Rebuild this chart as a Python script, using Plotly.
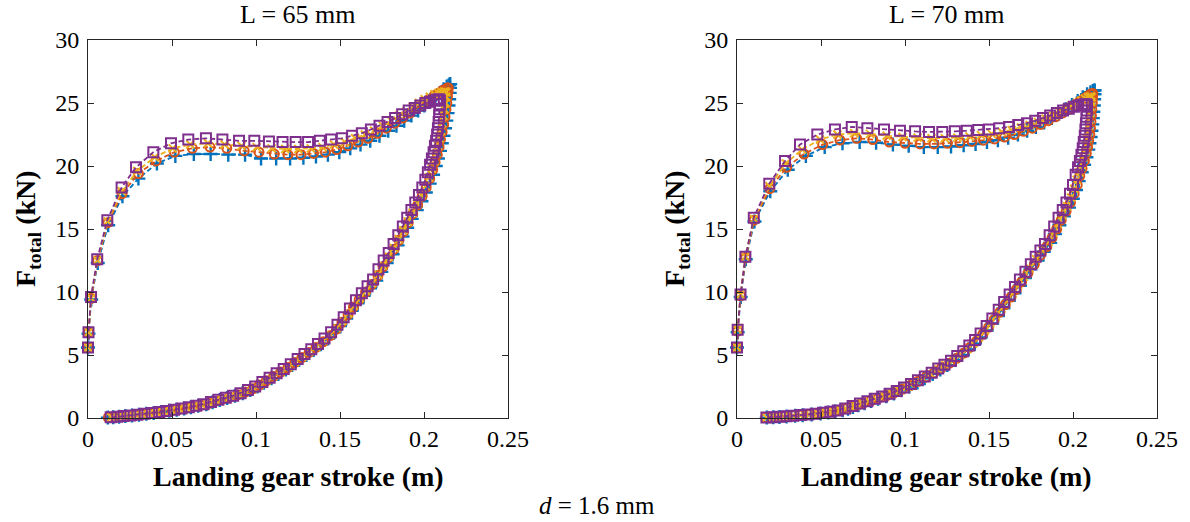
import plotly.graph_objects as go

# ---------------- L = 65 mm ----------------
# series 1 (+)
s65_a_load_x = [0.0000, 0.0003, 0.0019, 0.0058, 0.0120, 0.0205, 0.0300, 0.0410, 0.0520, 0.0630, 0.0730, 0.0835, 0.0935, 0.1030, 0.1120, 0.1203, 0.1282, 0.1357, 0.1428, 0.1496, 0.1561, 0.1622, 0.1680, 0.1735, 0.1787, 0.1836, 0.1882, 0.1925, 0.1965, 0.2002, 0.2036, 0.2067, 0.2094, 0.2117, 0.2135, 0.2147, 0.2154, 0.2156]
s65_a_load_f = [5.6, 6.7, 9.4, 12.3, 15.3, 17.6, 19.0, 20.2, 20.8, 20.95, 20.95, 20.9, 20.9, 20.6, 20.6, 20.6, 20.65, 20.75, 20.9, 21.1, 21.4, 21.7, 22.0, 22.4, 22.8, 23.2, 23.6, 24.0, 24.4, 24.8, 25.2, 25.5, 25.8, 26.1, 26.3, 26.4, 26.5, 26.5]
s65_a_unload_x = [0.2155, 0.2153, 0.2150, 0.2146, 0.2140, 0.2133, 0.2125, 0.2116, 0.2106, 0.2095, 0.2083, 0.2070, 0.2054, 0.2034, 0.2011, 0.1985, 0.1957, 0.1927, 0.1900, 0.1872, 0.1843, 0.1813, 0.1778, 0.1746, 0.1716, 0.1679, 0.1641, 0.1605, 0.1570, 0.1537, 0.1500, 0.1467, 0.1428, 0.1386, 0.1343, 0.1300, 0.1257, 0.1215, 0.1178, 0.1133, 0.1092, 0.1047, 0.1009, 0.0966, 0.0921, 0.0875, 0.0828, 0.0784, 0.0741, 0.0704, 0.0656, 0.0612, 0.0572, 0.0528, 0.0484, 0.0435, 0.0391, 0.0347, 0.0304, 0.0262, 0.0222, 0.0185, 0.0150, 0.0118]
s65_a_unload_f = [26.2, 25.8, 25.3, 24.8, 24.2, 23.6, 23.0, 22.4, 21.8, 21.2, 20.6, 20.0, 19.3, 18.6, 17.9, 17.2, 16.5, 15.8, 15.1, 14.4, 13.7, 13.0, 12.3, 11.6, 10.9, 10.3, 9.7, 9.1, 8.5, 7.9, 7.3, 6.8, 6.3, 5.85, 5.4, 5.0, 4.6, 4.2, 3.85, 3.5, 3.15, 2.8, 2.5, 2.22, 1.97, 1.76, 1.58, 1.42, 1.25, 1.1, 0.97, 0.86, 0.76, 0.66, 0.57, 0.48, 0.40, 0.33, 0.26, 0.2, 0.15, 0.1, 0.06, 0.03]

# series 2 (o)
s65_b_load_x = [0.0000, 0.0003, 0.0019, 0.0057, 0.0118, 0.0203, 0.0300, 0.0405, 0.0514, 0.0621, 0.0726, 0.0826, 0.0930, 0.1018, 0.1109, 0.1190, 0.1268, 0.1342, 0.1413, 0.1481, 0.1546, 0.1608, 0.1667, 0.1723, 0.1776, 0.1826, 0.1873, 0.1917, 0.1958, 0.1996, 0.2031, 0.2062, 0.2089, 0.2111, 0.2128, 0.2140, 0.2145]
s65_b_load_f = [5.6, 6.8, 9.5, 12.5, 15.5, 17.8, 19.4, 20.4, 21.1, 21.4, 21.5, 21.4, 21.2, 21.1, 20.95, 20.9, 20.9, 21.0, 21.1, 21.3, 21.6, 21.9, 22.2, 22.6, 23.0, 23.4, 23.8, 24.2, 24.6, 25.0, 25.3, 25.6, 25.8, 26.0, 26.1, 26.2, 26.2]
s65_b_unload_x = [0.2143, 0.2140, 0.2136, 0.2131, 0.2125, 0.2117, 0.2108, 0.2098, 0.2090, 0.2079, 0.2066, 0.2052, 0.2034, 0.2013, 0.1989, 0.1962, 0.1933, 0.1906, 0.1878, 0.1850, 0.1822, 0.1787, 0.1756, 0.1726, 0.1690, 0.1652, 0.1614, 0.1580, 0.1548, 0.1511, 0.1479, 0.1444, 0.1400, 0.1357, 0.1316, 0.1273, 0.1230, 0.1190, 0.1147, 0.1105, 0.1061, 0.1021, 0.0981, 0.0936, 0.0891, 0.0844, 0.0797, 0.0756, 0.0720, 0.0673, 0.0625, 0.0583, 0.0540, 0.0500, 0.0451, 0.0407, 0.0364, 0.0322, 0.0280, 0.0235, 0.0195, 0.0163, 0.0121]
s65_b_unload_f = [25.9, 25.5, 25.0, 24.5, 23.9, 23.3, 22.7, 22.1, 21.5, 20.9, 20.3, 19.7, 19.0, 18.3, 17.6, 16.9, 16.2, 15.5, 14.8, 14.1, 13.4, 12.7, 12.0, 11.3, 10.6, 10.0, 9.4, 8.8, 8.2, 7.6, 7.05, 6.55, 6.05, 5.6, 5.2, 4.8, 4.4, 4.0, 3.65, 3.3, 2.95, 2.62, 2.32, 2.06, 1.84, 1.65, 1.48, 1.32, 1.16, 1.02, 0.9, 0.79, 0.69, 0.6, 0.51, 0.43, 0.36, 0.29, 0.23, 0.17, 0.12, 0.08, 0.04]

# series 3 (x)
s65_c_load_x = [0.0000, 0.0003, 0.0018, 0.0056, 0.0116, 0.0201, 0.0293, 0.0397, 0.0504, 0.0609, 0.0714, 0.0813, 0.0914, 0.1004, 0.1093, 0.1174, 0.1252, 0.1326, 0.1396, 0.1464, 0.1528, 0.1590, 0.1648, 0.1703, 0.1755, 0.1804, 0.1850, 0.1893, 0.1933, 0.1970, 0.2004, 0.2035, 0.2062, 0.2085, 0.2104, 0.2118, 0.2128, 0.2132]
s65_c_load_f = [5.6, 6.8, 9.5, 12.5, 15.6, 18.0, 19.6, 20.7, 21.4, 21.7, 21.8, 21.7, 21.6, 21.5, 21.4, 21.35, 21.35, 21.4, 21.5, 21.7, 21.9, 22.2, 22.5, 22.8, 23.2, 23.6, 24.0, 24.3, 24.7, 25.0, 25.3, 25.5, 25.7, 25.8, 25.85, 25.9, 25.9, 25.85]
s65_c_unload_x = [0.2131, 0.2128, 0.2122, 0.2116, 0.2108, 0.2101, 0.2093, 0.2083, 0.2073, 0.2061, 0.2047, 0.2030, 0.2009, 0.1986, 0.1959, 0.1932, 0.1904, 0.1876, 0.1849, 0.1821, 0.1788, 0.1755, 0.1726, 0.1691, 0.1655, 0.1617, 0.1581, 0.1549, 0.1514, 0.1479, 0.1441, 0.1400, 0.1358, 0.1317, 0.1275, 0.1234, 0.1193, 0.1150, 0.1107, 0.1065, 0.1025, 0.0984, 0.0938, 0.0893, 0.0845, 0.0799, 0.0758, 0.0718, 0.0676, 0.0630, 0.0585, 0.0543, 0.0497, 0.0451, 0.0407, 0.0367, 0.0323, 0.0284, 0.0241, 0.0202, 0.0172, 0.0138]
s65_c_unload_f = [25.5, 25.0, 24.5, 24.0, 23.4, 22.8, 22.2, 21.6, 21.0, 20.4, 19.8, 19.1, 18.4, 17.7, 17.0, 16.3, 15.6, 14.9, 14.2, 13.5, 12.8, 12.1, 11.4, 10.7, 10.1, 9.5, 8.9, 8.3, 7.7, 7.15, 6.6, 6.1, 5.65, 5.25, 4.85, 4.45, 4.05, 3.7, 3.35, 3.0, 2.68, 2.38, 2.1, 1.87, 1.67, 1.5, 1.34, 1.18, 1.04, 0.92, 0.81, 0.71, 0.61, 0.52, 0.44, 0.37, 0.3, 0.24, 0.18, 0.13, 0.09, 0.05]

# series 4 (square)
s65_d_load_x = [0.0000, 0.0003, 0.0018, 0.0055, 0.0115, 0.0200, 0.0286, 0.0389, 0.0494, 0.0597, 0.0702, 0.0800, 0.0899, 0.0990, 0.1077, 0.1158, 0.1236, 0.1310, 0.1380, 0.1447, 0.1511, 0.1572, 0.1630, 0.1684, 0.1735, 0.1783, 0.1828, 0.1870, 0.1909, 0.1945, 0.1978, 0.2008, 0.2035, 0.2058, 0.2077, 0.2089, 0.2095]
s65_d_load_f = [5.6, 6.8, 9.6, 12.6, 15.7, 18.3, 19.9, 21.1, 21.8, 22.1, 22.2, 22.1, 22.0, 22.0, 21.95, 21.9, 21.9, 21.9, 22.0, 22.1, 22.2, 22.4, 22.6, 22.9, 23.2, 23.5, 23.8, 24.1, 24.4, 24.6, 24.8, 25.0, 25.1, 25.2, 25.25, 25.3, 25.2]
s65_d_unload_x = [0.2094, 0.2092, 0.2090, 0.2087, 0.2083, 0.2078, 0.2072, 0.2065, 0.2057, 0.2047, 0.2036, 0.2023, 0.2008, 0.1990, 0.1970, 0.1948, 0.1925, 0.1900, 0.1874, 0.1847, 0.1819, 0.1790, 0.1760, 0.1729, 0.1697, 0.1664, 0.1630, 0.1595, 0.1559, 0.1522, 0.1485, 0.1447, 0.1408, 0.1369, 0.1329, 0.1289, 0.1248, 0.1207, 0.1165, 0.1123, 0.1081, 0.1038, 0.0995, 0.0952, 0.0908, 0.0864, 0.0820, 0.0776, 0.0732, 0.0688, 0.0644, 0.0600, 0.0556, 0.0512, 0.0468, 0.0424, 0.0380, 0.0337, 0.0294, 0.0252, 0.0212, 0.0175, 0.0135]
s65_d_unload_f = [24.9, 24.5, 24.0, 23.5, 23.0, 22.5, 22.0, 21.6, 21.1, 20.6, 20.1, 19.5, 18.9, 18.3, 17.7, 17.1, 16.5, 15.9, 15.2, 14.5, 13.8, 13.1, 12.5, 11.8, 11.0, 10.45, 9.9, 9.35, 8.7, 8.0, 7.4, 6.8, 6.3, 5.87, 5.45, 5.07, 4.68, 4.27, 3.88, 3.55, 3.2, 2.85, 2.5, 2.22, 1.97, 1.77, 1.6, 1.44, 1.26, 1.09, 0.97, 0.86, 0.75, 0.65, 0.56, 0.48, 0.40, 0.33, 0.26, 0.2, 0.15, 0.1, 0.05]

# ---------------- L = 70 mm ----------------
s70_a_load_x = [0.0000, 0.0004, 0.0022, 0.0052, 0.0104, 0.0198, 0.0302, 0.0410, 0.0522, 0.0628, 0.0730, 0.0828, 0.0928, 0.1022, 0.1112, 0.1195, 0.1274, 0.1349, 0.1420, 0.1488, 0.1553, 0.1614, 0.1672, 0.1727, 0.1779, 0.1828, 0.1874, 0.1917, 0.1957, 0.1994, 0.2028, 0.2058, 0.2084, 0.2104, 0.2118, 0.2126, 0.2129]
s70_a_load_f = [5.6, 6.8, 9.6, 12.6, 15.6, 18.0, 19.7, 20.8, 21.5, 21.8, 21.9, 21.85, 21.7, 21.6, 21.5, 21.5, 21.55, 21.65, 21.75, 21.9, 22.05, 22.25, 22.5, 22.8, 23.1, 23.45, 23.8, 24.15, 24.5, 24.85, 25.15, 25.45, 25.7, 25.85, 25.95, 26.0, 26.0]
s70_a_unload_x = [0.2128, 0.2126, 0.2124, 0.2121, 0.2118, 0.2115, 0.2110, 0.2105, 0.2098, 0.2091, 0.2080, 0.2066, 0.2052, 0.2034, 0.2018, 0.1999, 0.1976, 0.1946, 0.1919, 0.1892, 0.1864, 0.1826, 0.1790, 0.1747, 0.1714, 0.1684, 0.1652, 0.1618, 0.1586, 0.1553, 0.1519, 0.1486, 0.1451, 0.1415, 0.1379, 0.1339, 0.1300, 0.1252, 0.1210, 0.1165, 0.1117, 0.1074, 0.1026, 0.0979, 0.0934, 0.0889, 0.0840, 0.0798, 0.0759, 0.0723, 0.0690, 0.0661, 0.0629, 0.0585, 0.0544, 0.0497, 0.0444, 0.0391, 0.0346, 0.0295, 0.0253, 0.0216, 0.0177]
s70_a_unload_f = [25.7, 25.3, 24.8, 24.3, 23.8, 23.3, 22.8, 22.3, 21.8, 21.3, 20.7, 20.1, 19.5, 18.8, 18.1, 17.4, 16.7, 16.0, 15.3, 14.6, 13.9, 13.2, 12.5, 11.8, 11.1, 10.5, 9.9, 9.3, 8.7, 8.1, 7.5, 6.95, 6.4, 5.9, 5.45, 5.0, 4.6, 4.2, 3.85, 3.5, 3.15, 2.82, 2.5, 2.2, 1.95, 1.72, 1.52, 1.34, 1.18, 1.02, 0.87, 0.74, 0.62, 0.52, 0.43, 0.35, 0.28, 0.22, 0.17, 0.12, 0.08, 0.05, 0.03]

s70_b_load_x = [0.0000, 0.0004, 0.0021, 0.0051, 0.0102, 0.0195, 0.0296, 0.0399, 0.0510, 0.0613, 0.0712, 0.0808, 0.0907, 0.1000, 0.1090, 0.1173, 0.1252, 0.1327, 0.1399, 0.1467, 0.1532, 0.1593, 0.1651, 0.1706, 0.1758, 0.1807, 0.1853, 0.1896, 0.1936, 0.1973, 0.2007, 0.2038, 0.2065, 0.2088, 0.2104, 0.2114, 0.2118]
s70_b_load_f = [5.6, 6.9, 9.7, 12.7, 15.7, 18.2, 19.9, 20.95, 21.7, 22.06, 22.2, 22.1, 21.9, 21.8, 21.75, 21.75, 21.8, 21.85, 21.95, 22.05, 22.15, 22.3, 22.5, 22.75, 23.0, 23.3, 23.6, 23.9, 24.2, 24.5, 24.8, 25.1, 25.35, 25.55, 25.7, 25.75, 25.75]
s70_b_unload_x = [0.2117, 0.2115, 0.2112, 0.2110, 0.2107, 0.2104, 0.2100, 0.2093, 0.2087, 0.2079, 0.2068, 0.2054, 0.2040, 0.2025, 0.2007, 0.1985, 0.1959, 0.1930, 0.1903, 0.1875, 0.1844, 0.1805, 0.1770, 0.1732, 0.1694, 0.1663, 0.1631, 0.1597, 0.1565, 0.1531, 0.1497, 0.1463, 0.1425, 0.1386, 0.1350, 0.1309, 0.1265, 0.1216, 0.1173, 0.1124, 0.1076, 0.1031, 0.0984, 0.0935, 0.0889, 0.0840, 0.0797, 0.0754, 0.0719, 0.0684, 0.0651, 0.0619, 0.0575, 0.0534, 0.0487, 0.0434, 0.0381, 0.0336, 0.0285, 0.0243, 0.0208, 0.0171]
s70_b_unload_f = [25.4, 25.0, 24.5, 24.0, 23.5, 23.0, 22.5, 22.0, 21.5, 21.0, 20.4, 19.8, 19.2, 18.5, 17.8, 17.1, 16.4, 15.7, 15.0, 14.3, 13.6, 12.9, 12.2, 11.5, 10.8, 10.2, 9.6, 9.0, 8.4, 7.8, 7.2, 6.65, 6.1, 5.6, 5.15, 4.75, 4.35, 3.95, 3.6, 3.25, 2.9, 2.58, 2.28, 2.0, 1.76, 1.55, 1.37, 1.2, 1.04, 0.88, 0.74, 0.62, 0.52, 0.43, 0.35, 0.28, 0.22, 0.17, 0.12, 0.08, 0.05, 0.03]

s70_c_load_x = [0.0000, 0.0004, 0.0021, 0.0050, 0.0101, 0.0193, 0.0291, 0.0387, 0.0494, 0.0598, 0.0698, 0.0792, 0.0891, 0.0985, 0.1075, 0.1158, 0.1237, 0.1312, 0.1384, 0.1452, 0.1516, 0.1577, 0.1635, 0.1690, 0.1742, 0.1791, 0.1837, 0.1880, 0.1920, 0.1957, 0.1991, 0.2022, 0.2049, 0.2072, 0.2089, 0.2101, 0.2108, 0.2110]
s70_c_load_f = [5.6, 7.0, 9.8, 12.8, 15.8, 18.4, 20.2, 21.3, 22.1, 22.5, 22.6, 22.55, 22.4, 22.3, 22.25, 22.2, 22.2, 22.25, 22.35, 22.45, 22.55, 22.7, 22.85, 23.05, 23.25, 23.5, 23.75, 24.0, 24.3, 24.55, 24.8, 25.0, 25.2, 25.35, 25.45, 25.5, 25.5, 25.45]
s70_c_unload_x = [0.2108, 0.2105, 0.2101, 0.2097, 0.2094, 0.2090, 0.2086, 0.2080, 0.2072, 0.2063, 0.2051, 0.2037, 0.2022, 0.2007, 0.1988, 0.1965, 0.1936, 0.1909, 0.1883, 0.1855, 0.1819, 0.1781, 0.1741, 0.1706, 0.1672, 0.1640, 0.1606, 0.1574, 0.1542, 0.1507, 0.1475, 0.1440, 0.1404, 0.1368, 0.1328, 0.1289, 0.1241, 0.1198, 0.1153, 0.1105, 0.1062, 0.1013, 0.0966, 0.0921, 0.0876, 0.0826, 0.0784, 0.0745, 0.0709, 0.0676, 0.0646, 0.0614, 0.0570, 0.0529, 0.0482, 0.0429, 0.0376, 0.0331, 0.0280, 0.0240, 0.0206, 0.0176]
s70_c_unload_f = [25.1, 24.7, 24.2, 23.7, 23.2, 22.7, 22.2, 21.7, 21.2, 20.7, 20.1, 19.5, 18.9, 18.2, 17.5, 16.8, 16.1, 15.4, 14.7, 14.0, 13.3, 12.6, 11.9, 11.2, 10.5, 9.9, 9.3, 8.7, 8.1, 7.5, 6.95, 6.4, 5.9, 5.45, 5.0, 4.6, 4.2, 3.85, 3.5, 3.15, 2.82, 2.5, 2.2, 1.95, 1.72, 1.52, 1.34, 1.18, 1.02, 0.87, 0.74, 0.62, 0.52, 0.43, 0.35, 0.28, 0.22, 0.17, 0.12, 0.08, 0.05, 0.03]

s70_d_load_x = [0.0000, 0.0004, 0.0021, 0.0050, 0.0100, 0.0192, 0.0286, 0.0375, 0.0478, 0.0583, 0.0683, 0.0776, 0.0875, 0.0970, 0.1060, 0.1143, 0.1222, 0.1297, 0.1368, 0.1436, 0.1500, 0.1561, 0.1619, 0.1674, 0.1726, 0.1775, 0.1821, 0.1864, 0.1904, 0.1941, 0.1975, 0.2005, 0.2031, 0.2052, 0.2068, 0.2078, 0.2083]
s70_d_load_f = [5.6, 7.0, 9.8, 12.8, 15.9, 18.6, 20.4, 21.7, 22.5, 22.9, 23.1, 23.0, 22.9, 22.8, 22.75, 22.7, 22.7, 22.75, 22.8, 22.85, 22.9, 23.0, 23.1, 23.25, 23.4, 23.6, 23.8, 24.0, 24.2, 24.4, 24.55, 24.7, 24.8, 24.85, 24.9, 24.9, 24.85]
s70_d_unload_x = [0.2082, 0.2080, 0.2077, 0.2074, 0.2070, 0.2064, 0.2058, 0.2050, 0.2041, 0.2030, 0.2016, 0.2000, 0.1982, 0.1961, 0.1939, 0.1914, 0.1888, 0.1861, 0.1833, 0.1806, 0.1778, 0.1749, 0.1717, 0.1684, 0.1655, 0.1623, 0.1590, 0.1558, 0.1520, 0.1486, 0.1450, 0.1417, 0.1383, 0.1347, 0.1311, 0.1274, 0.1235, 0.1198, 0.1159, 0.1118, 0.1077, 0.1036, 0.0994, 0.0951, 0.0908, 0.0864, 0.0820, 0.0776, 0.0732, 0.0688, 0.0644, 0.0600, 0.0556, 0.0512, 0.0468, 0.0424, 0.0380, 0.0336, 0.0294, 0.0255, 0.0215, 0.0175]
s70_d_unload_f = [24.4, 23.9, 23.4, 22.9, 22.4, 21.9, 21.4, 20.9, 20.4, 19.9, 19.3, 18.5, 17.8, 17.1, 16.5, 15.9, 15.2, 14.5, 13.8, 13.3, 12.8, 12.2, 11.6, 11.0, 10.4, 9.8, 9.2, 8.6, 7.9, 7.3, 6.7, 6.2, 5.75, 5.3, 4.92, 4.55, 4.22, 3.92, 3.6, 3.3, 3.0, 2.7, 2.42, 2.15, 1.92, 1.7, 1.52, 1.33, 1.15, 0.95, 0.75, 0.6, 0.5, 0.41, 0.34, 0.28, 0.23, 0.18, 0.14, 0.1, 0.06, 0.03]

panel_titles = ["L = 65 mm", "L = 70 mm"]
x_title = "Landing gear stroke (m)"
y_title = "F<sub>total</sub> (kN)"
footnote = "<i>d</i> = 1.6 mm"
x_ticks = [0, 0.05, 0.1, 0.15, 0.2, 0.25]
x_ticktext = ["0", "0.05", "0.1", "0.15", "0.2", "0.25"]
y_ticks = [0, 5, 10, 15, 20, 25, 30]

W, H = 1190, 522
FONT = "Liberation Serif, Times New Roman, serif"
AX = "#262626"

series_style = [
    dict(color="#0072BD", symbol="cross-thin", size=10, lw=2.4),
    dict(color="#D95319", symbol="circle-open", size=9, lw=2.0),
    dict(color="#EDB120", symbol="x-thin", size=8, lw=2.0),
    dict(color="#7E2F8E", symbol="square-open", size=10, lw=2.0),
]

panels = [
    [(s65_a_load_x + s65_a_unload_x, s65_a_load_f + s65_a_unload_f),
     (s65_b_load_x + s65_b_unload_x, s65_b_load_f + s65_b_unload_f),
     (s65_c_load_x + s65_c_unload_x, s65_c_load_f + s65_c_unload_f),
     (s65_d_load_x + s65_d_unload_x, s65_d_load_f + s65_d_unload_f)],
    [(s70_a_load_x + s70_a_unload_x, s70_a_load_f + s70_a_unload_f),
     (s70_b_load_x + s70_b_unload_x, s70_b_load_f + s70_b_unload_f),
     (s70_c_load_x + s70_c_unload_x, s70_c_load_f + s70_c_unload_f),
     (s70_d_load_x + s70_d_unload_x, s70_d_load_f + s70_d_unload_f)],
]

fig = go.Figure()
for p, series in enumerate(panels):
    xa = "x" if p == 0 else "x2"
    ya = "y" if p == 0 else "y2"
    for (xs, fs), st in zip(series, series_style):
        fig.add_trace(go.Scatter(
            x=xs, y=fs, xaxis=xa, yaxis=ya, mode="lines+markers",
            line=dict(color=st["color"], width=1.8, dash="5px,3px"),
            marker=dict(symbol=st["symbol"], size=st["size"], color=st["color"],
                        line=dict(color=st["color"], width=st["lw"])),
            cliponaxis=False, showlegend=False, hoverinfo="skip"))

# plot-area edges in pixels
left_px = [(88, 508), (737, 1157)]
top_px, bot_px = 40, 418


def px_x(v):
    return v / W


def px_y(v):
    return 1 - v / H


axis_common = dict(showline=True, linecolor=AX, linewidth=1, mirror="ticks",
                   ticks="inside", ticklen=6, tickwidth=1, tickcolor=AX,
                   showgrid=False, zeroline=False, automargin=False,
                   tickfont=dict(family=FONT, size=24, color="#000"))

layout = dict(width=W, height=H, margin=dict(l=0, r=0, t=0, b=0, pad=0, autoexpand=False),
              paper_bgcolor="white", plot_bgcolor="white", annotations=[])


def note(text, x, y, size, angle=0):
    return dict(text=text, x=px_x(x), y=px_y(y), xref="paper", yref="paper",
                xanchor="center", yanchor="middle", textangle=angle, showarrow=False,
                font=dict(family=FONT, size=size, color="#000"))


for i, (x0, x1) in enumerate(left_px):
    sfx = "" if i == 0 else "2"
    layout["xaxis" + sfx] = dict(axis_common, domain=[px_x(x0), px_x(x1)], range=[0, 0.25],
                                 tickvals=x_ticks, ticktext=x_ticktext,
                                 anchor="y" + sfx, ticklabelstandoff=-1)
    layout["yaxis" + sfx] = dict(axis_common, domain=[px_y(bot_px), px_y(top_px)], range=[0, 30],
                                 tickvals=y_ticks, anchor="x" + sfx, ticklabelstandoff=3)
    cx = (x0 + x1) / 2
    layout["annotations"] += [
        note(panel_titles[i], cx, 14, 26),
        note("<b>" + x_title + "</b>", cx, 476, 28),
        note("<b>" + y_title + "</b>", x0 - 60, (top_px + bot_px) / 2, 28, angle=-90),
    ]

layout["annotations"].append(note(footnote, 597, 505, 25))

fig.update_layout(**layout)
fig.write_html("out.html")
